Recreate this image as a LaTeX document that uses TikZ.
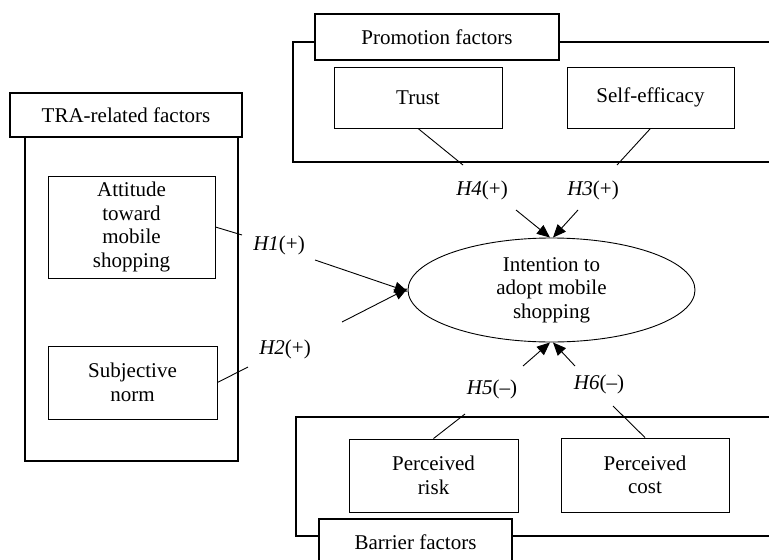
\documentclass[tikz,border=0pt]{standalone}
\usepackage{fontspec}
\setmainfont{Liberation Serif}
\usetikzlibrary{arrows.meta,shapes.geometric}

\begin{document}
\begin{tikzpicture}[
  x=1pt, y=-1pt,
  font=\fontsize{21}{23.5}\selectfont,
  frame/.style={draw, line width=1.8pt, inner sep=0pt},
  head/.style={draw, fill=white, line width=1.8pt, inner sep=0pt, align=center},
  box/.style={draw, line width=0.9pt, inner sep=0pt, align=center},
  link/.style={line width=0.9pt},
  arrow/.style={line width=0.9pt, -{Triangle[length=13pt,width=11pt]}}
]
\useasboundingbox (0,0) rectangle (769,560);
\clip (0,0) rectangle (769,560);

% group frames
\node[frame, minimum width=213pt, minimum height=324pt] (traf) at (131.5,299) {};
\node[head, minimum width=232pt, minimum height=44pt] (trah) at (126,115) {TRA-related factors};
\node[frame, minimum width=500pt, minimum height=120pt] (promf) at (543,102) {};
\node[head, minimum width=244pt, minimum height=46pt] (promh) at (437,37) {Promotion factors};
\node[frame, minimum width=500pt, minimum height=119pt] (barf) at (546,476.5) {};

% factors
\node[box, minimum width=167pt, minimum height=102pt] (att) at (131.5,227) {Attitude\\toward\\mobile\\shopping};
\node[box, minimum width=169pt, minimum height=73pt] (subj) at (132.5,382.5) {Subjective\\norm};
\node[box, minimum width=168pt, minimum height=61pt] (trust) at (418,97.5) {Trust};
\node[box, minimum width=167pt, minimum height=61pt] (self) at (650.5,97.5) {Self-efficacy};
\node[box, minimum width=169pt, minimum height=73pt] (risk) at (433.5,475.5) {Perceived\\risk};
\node[box, minimum width=168pt, minimum height=74pt] (cost) at (645,475) {Perceived\\cost};
\node[head, minimum width=193pt, minimum height=46pt] (barh) at (415.5,542) {Barrier factors};

\node[draw, ellipse, line width=0.9pt, inner sep=0pt, minimum width=287pt, minimum height=104pt, align=center] (intent) at (551.5,290) {Intention to\\adopt mobile\\shopping};

% hypothesis labels
\node (h1) at (279,245) {\textit{H1}(+)};
\node (h2) at (285,349) {\textit{H2}(+)};
\node (h4) at (482,190) {\textit{H4}(+)};
\node (h3) at (593,190) {\textit{H3}(+)};
\node (h5) at (492,389) {\textit{H5}(–)};
\node (h6) at (599,384) {\textit{H6}(–)};

\coordinate (h1a) at (242,235);
\coordinate (h1b) at (315,260);
\coordinate (h2a) at (248,367);
\coordinate (h2b) at (342,322);
\coordinate (h4a) at (463,165);
\coordinate (h4b) at (516,210);
\coordinate (h3a) at (617,165);
\coordinate (h3b) at (578,210);
\coordinate (h5a) at (465,414);
\coordinate (h5b) at (523,366);
\coordinate (h6a) at (613,406);
\coordinate (h6b) at (575,366);

\draw[link] (att.east) -- (h1a);
\draw[arrow] (h1b) -- ([yshift=-1.5pt]intent.west);
\draw[link] (subj.east) -- (h2a);
\draw[arrow] (h2b) -- ([yshift=1.5pt]intent.west);
\draw[link] (trust.south) -- (h4a);
\draw[arrow] (h4b) -- ([xshift=-1.5pt]intent.north);
\draw[link] (self.south) -- (h3a);
\draw[arrow] (h3b) -- ([xshift=1.5pt]intent.north);
\draw[link] (risk.north) -- (h5a);
\draw[arrow] (h5b) -- ([xshift=-1.5pt]intent.south);
\draw[link] (cost.north) -- (h6a);
\draw[arrow] (h6b) -- ([xshift=1.5pt]intent.south);
\end{tikzpicture}
\end{document}
